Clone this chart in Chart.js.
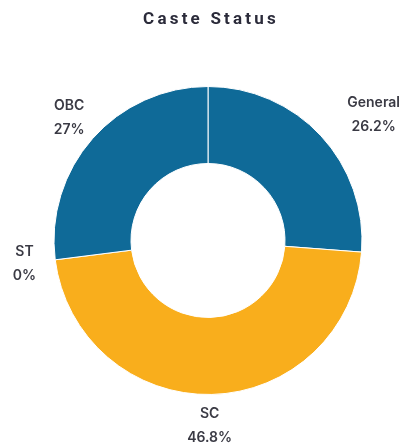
<!DOCTYPE html>
<html>
<head>
<meta charset="utf-8">
<script src="https://cdn.jsdelivr.net/npm/chart.js@4"></script>
<style>
  html, body { margin: 0; padding: 0; background: #fff; }
  #wrap { position: relative; width: 410px; height: 448px; }
</style>
</head>
<body>
<div id="wrap"><canvas id="caste"></canvas></div>
<script>
/* ---------- data ---------- */
var categories = ['General', 'SC', 'ST', 'OBC'];
var shares     = [26.2, 46.8, 0, 27];
var colours    = ['#0f6a98', '#f9ae1c', '#f9ae1c', '#0f6a98'];

/* title drawn by hand so it can be letter-spaced */
var titlePlugin = {
  id: 'spacedTitle',
  afterDraw: function (chart) {
    var ctx = chart.ctx;
    ctx.save();
    ctx.font = 'bold 17px Roboto, sans-serif';
    ctx.fillStyle = '#2b2b3a';
    ctx.textAlign = 'center';
    ctx.textBaseline = 'middle';
    if ('letterSpacing' in ctx) ctx.letterSpacing = '3.2px';
    ctx.fillText('Caste Status', 211, 20);
    ctx.restore();
  }
};

/* category + percentage outside each slice; General is pushed right a bit */
var nudgeX = { General: 30, SC: -3 };
var outsideLabels = {
  id: 'outsideLabels',
  afterDatasetsDraw: function (chart) {
    var ctx = chart.ctx;
    var meta = chart.getDatasetMeta(0);
    ctx.save();
    ctx.font = '600 14px Inter, sans-serif';
    ctx.fillStyle = '#3a3a44';
    ctx.textAlign = 'center';
    ctx.textBaseline = 'middle';
    meta.data.forEach(function (arc, i) {
      var p = arc.getProps(['x', 'y', 'startAngle', 'endAngle', 'outerRadius'], true);
      var a = (p.startAngle + p.endAngle) / 2;
      var r = p.outerRadius + 31;
      var x = p.x + Math.cos(a) * r + (nudgeX[categories[i]] || 0);
      var y = p.y + Math.sin(a) * r;
      ctx.fillText(categories[i], x, y - 12);
      ctx.fillText(shares[i] + '%', x, y + 12);
    });
    ctx.restore();
  }
};

new Chart(document.getElementById('caste'), {
  type: 'doughnut',
  data: {
    labels: categories,
    datasets: [{
      data: shares,
      backgroundColor: colours,
      borderColor: '#ffffff',
      borderWidth: 1
    }]
  },
  options: {
    responsive: true,
    maintainAspectRatio: false,
    animation: false,
    cutout: '50%',
    layout: { padding: { top: 86, bottom: 53, left: 6, right: 0 } },
    plugins: {
      legend: { display: false },
      tooltip: { enabled: false }
    }
  },
  plugins: [titlePlugin, outsideLabels]
});
</script>
</body>
</html>
